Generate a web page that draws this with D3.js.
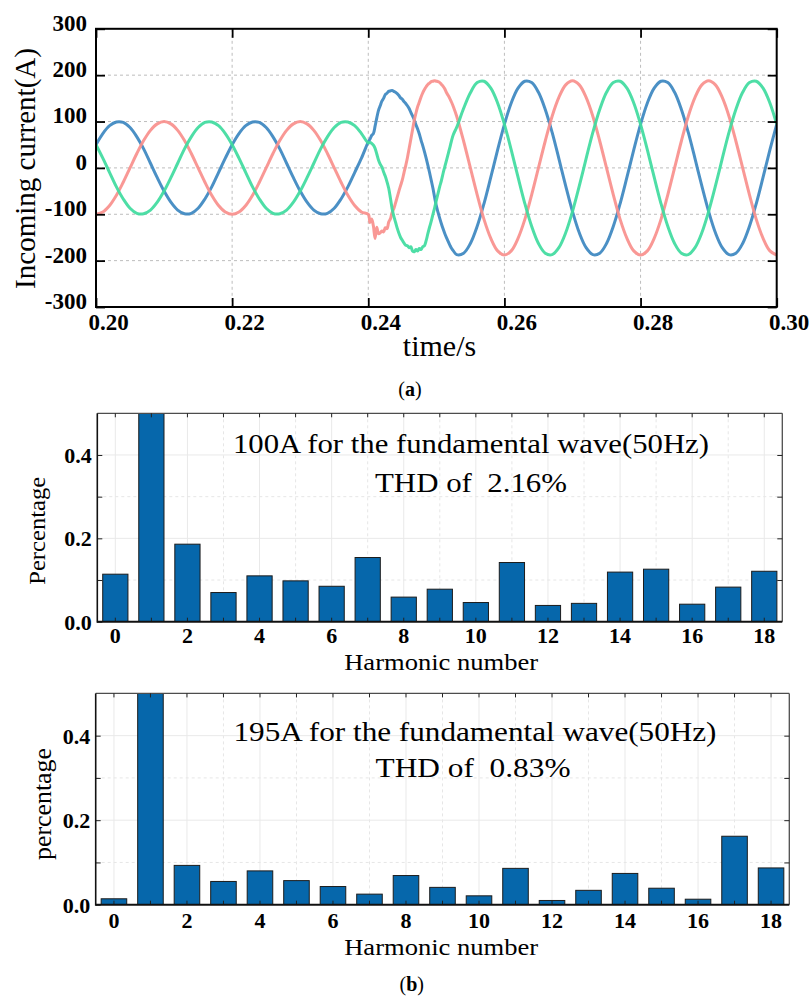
<!DOCTYPE html>
<html><head><meta charset="utf-8">
<script src="https://cdn.jsdelivr.net/npm/d3@7"></script>
<style>
body{margin:0;background:#fff;}
svg{display:block;}
svg text{font-family:"Liberation Serif","Times New Roman",Tinos,Times,serif;}
</style></head>
<body><svg id="c" width="810" height="998"></svg>
<script>
// ---------- Data: (a) incoming current waveforms ----------
const timeTicks = [0.20, 0.22, 0.24, 0.26, 0.28, 0.30];
const currentTicks = [-300, -200, -100, 0, 100, 200, 300];
// sample instants in milliseconds
const sampleMs = [
 200,201,202,203,204,205,206,207,208,209,210,211,212,213,214,215,216,217,218,219,
 220,221,222,223,224,225,226,227,228,229,230,231,232,233,234,235,236,237,238,239,240,
 240.25,240.5,240.75,241,241.25,241.5,241.75,242,242.25,242.5,242.75,243,243.25,243.5,243.75,
 244,244.25,244.5,244.75,245,245.25,245.5,245.75,246,246.25,246.5,246.75,247,247.25,247.5,247.75,
 248,248.25,248.5,248.75,249,249.25,249.5,249.75,250,250.25,250.5,250.75,251,251.25,251.5,251.75,
 252,252.25,252.5,
 253,254,255,256,257,258,259,260,261,262,263,264,265,266,267,268,269,270,271,272,273,274,275,276,277,
 278,279,280,281,282,283,284,285,286,287,288,289,290,291,292,293,294,295,296,297,298,299,300
];
const phaseA = [ // blue
 50,74,91,99,98,87,67,41,10,-21,-50,-74,-91,-99,-98,-87,-67,-41,-10,21,
 50,74,91,99,98,87,67,41,10,-21,-50,-74,-91,-99,-98,-87,-67,-41,-10,21,56,
 62,70,74,90,108,124,134,144,150,158,161,165,166,167,165,163,160,156,151,148,143,139,134,128,120,
 112,104,93,84,73,60,48,35,21,6,-10,-27,-44,-64,-82,-96,-109,-121,-132,-142,-151,-159,-167,-174,-179,
 -187,-184,-163,-126,-77,-20,39,
 94,140,172,187,184,163,126,77,20,-39,-94,-140,-172,-187,-184,-163,-126,-77,-20,39,
 94,140,172,187,184,163,126,77,20,-39,-94,-140,-172,-187,-184,-163,-126,-77,-20,39,94
];
const phaseB = [ // pink
 -100,-95,-81,-59,-31,0,31,59,81,95,100,95,81,59,31,0,-31,-59,-81,-95,
 -100,-95,-81,-59,-31,0,31,59,81,95,100,95,81,59,31,0,-31,-59,-81,-95,-100,
 -118,-110,-125,-152,-128,-142,-140,-136,-138,-129,-131,-117,-110,-96,-88,-76,-63,-50,-38,-26,-10,5,22,42,62,
 82,102,118,132,142,153,162,169,175,180,183,186,187,188,187,186,184,180,176,170,162,156,149,141,132,
 111,58,0,-58,-111,-152,-179,
 -188,-179,-152,-111,-58,0,58,111,152,179,188,179,152,111,58,0,-58,-111,-152,-179,
 -188,-179,-152,-111,-58,0,58,111,152,179,188,179,152,111,58,0,-58,-111,-152,-179,-188
];
const phaseC = [ // green
 50,21,-10,-41,-67,-87,-98,-99,-91,-74,-50,-21,10,41,67,87,98,99,91,74,
 50,21,-10,-41,-67,-87,-98,-99,-91,-74,-50,-21,10,41,67,87,98,99,91,74,54,
 55,53,49,42,30,17,8,2,-9,-18,-30,-44,-65,-88,-104,-117,-130,-141,-150,-156,-162,-167,-168,-172,-170,
 -179,-181,-176,-179,-174,-176,-170,-168,-157,-142,-128,-115,-100,-86,-70,-55,-40,-27,-11,3,17,31,45,60,72,
 88,128,162,184,187,172,140,
 94,39,-20,-77,-126,-163,-184,-187,-172,-140,-94,-39,20,77,126,163,184,187,172,140,
 94,39,-20,-77,-126,-163,-184,-187,-172,-140,-94,-39,20,77,126,163,184,187,172,140,94
];

// ---------- Data: (b) harmonic spectra ----------
const harmonics = [0,1,2,3,4,5,6,7,8,9,10,11,12,13,14,15,16,17,18];
const harmonicTicks = [0,2,4,6,8,10,12,14,16,18];
const pctTicks = [0, 0.2, 0.4];
const pct100A = [0.114,1.0,0.186,0.070,0.110,0.098,0.085,0.154,0.059,0.078,0.046,0.142,0.039,0.044,0.119,0.126,0.042,0.083,0.121];
const pct195A = [0.014,1.0,0.093,0.055,0.080,0.057,0.043,0.025,0.069,0.041,0.021,0.086,0.010,0.034,0.074,0.039,0.013,0.162,0.087];

// ---------- Drawing ----------
const svg = d3.select("#c");
function F(sel){ return sel.style("font-family", '"Liberation Serif","Times New Roman",Tinos,Times,serif'); }

// ===== (a) waveform chart =====
const A = {l:96, r:776.7, t:28.8, b:307};
const x1 = d3.scaleLinear().domain([0.20, 0.30]).range([A.l, A.r]);
const y1 = d3.scaleLinear().domain([-300, 300]).range([A.b, A.t]);

const gA = svg.append("g");
gA.append("g").selectAll("line").data(timeTicks.slice(1,-1)).join("line")
  .attr("x1", d=>x1(d)).attr("x2", d=>x1(d)).attr("y1", A.t).attr("y2", A.b)
  .attr("stroke", "#bdbdbd").attr("stroke-width", 1).attr("stroke-dasharray", "3,3");
gA.append("g").selectAll("line").data(currentTicks.slice(1,-1)).join("line")
  .attr("y1", d=>y1(d)).attr("y2", d=>y1(d)).attr("x1", A.l).attr("x2", A.r)
  .attr("stroke", "#bdbdbd").attr("stroke-width", 1).attr("stroke-dasharray", "3,3");

svg.append("defs").append("clipPath").attr("id","clipA").append("rect")
  .attr("x", A.l).attr("y", A.t).attr("width", A.r-A.l).attr("height", A.b-A.t);

const series = [
  {vals: phaseA, color: "#3c87c0"},
  {vals: phaseB, color: "#f88f8c"},
  {vals: phaseC, color: "#3fdb9e"}
];
const line = d3.line().x(d=>x1(d.t)).y(d=>y1(d.v)).curve(d3.curveCatmullRom.alpha(0.5));
gA.append("g").attr("clip-path","url(#clipA)").selectAll("path").data(series).join("path")
  .attr("d", s => line(sampleMs.map((ms,i)=>({t: ms/1000, v: s.vals[i]}))))
  .attr("fill","none").attr("stroke", s=>s.color).attr("stroke-width", 3)
  .attr("stroke-linejoin","round").attr("stroke-opacity", 0.92);

function styleAxis(g, col, w){
  g.select(".domain").remove();
  g.selectAll(".tick line").attr("stroke", col).attr("stroke-width", w);
}
const axB = gA.append("g").attr("transform",`translate(0,${A.b})`)
  .call(d3.axisBottom(x1).tickValues(timeTicks).tickSize(-9).tickFormat(d3.format(".2f")));
styleAxis(axB, "#000", 1.8);
F(axB.selectAll("text").attr("y", 23).attr("dy", 0).attr("dx", 12)
  .attr("font-weight","bold").attr("font-size", 23).attr("fill","#000"));
const axT = gA.append("g").attr("transform",`translate(0,${A.t})`)
  .call(d3.axisTop(x1).tickValues(timeTicks).tickSize(-9).tickFormat(""));
styleAxis(axT, "#000", 1.8);
const axL = gA.append("g").attr("transform",`translate(${A.l},0)`)
  .call(d3.axisLeft(y1).tickValues(currentTicks).tickSize(-9).tickFormat(d=>String(d)));
styleAxis(axL, "#000", 1.8);
F(axL.selectAll("text").attr("x", -9).attr("y", -6).attr("dy","0.32em")
  .attr("font-weight","bold").attr("font-size", 23).attr("fill","#000"));
const axR = gA.append("g").attr("transform",`translate(${A.r},0)`)
  .call(d3.axisRight(y1).tickValues(currentTicks).tickSize(-9).tickFormat(""));
styleAxis(axR, "#000", 1.8);
gA.append("rect").attr("x",A.l).attr("y",A.t).attr("width",A.r-A.l).attr("height",A.b-A.t)
  .attr("fill","none").attr("stroke","#000").attr("stroke-width",2);
F(gA.append("text").attr("transform","translate(35,168.5) rotate(-90)")
  .attr("text-anchor","middle").attr("font-size",29)
  .text("Incoming current(A)"));
F(gA.append("text").attr("x",439.5).attr("y",355.5).attr("text-anchor","middle")
  .attr("font-size",30).text("time/s"));
const capA = F(svg.append("text").attr("x",410).attr("y",396).attr("text-anchor","middle")
  .attr("font-size",20));
capA.append("tspan").text("(");
capA.append("tspan").attr("font-weight","bold").text("a");
capA.append("tspan").text(")");

// ===== bar charts =====
function barChart(cfg){
  const {l, r, t, b, vals, ylabel, ylabelPos, ylabelSize, ylabelLen, ann1, ann2, xlabBase, tickBase, id} = cfg;
  const g = svg.append("g");
  const x = d3.scaleBand().domain(harmonics).range([l, r]).paddingInner(0.3).paddingOuter(0.15);
  const y = d3.scaleLinear().domain([0, 0.5]).range([b, t]);
  const minorY = [0.1, 0.3];
  const majorY = [0.2, 0.4];
  const cx = d => x(d) + x.bandwidth()/2;
  g.append("g").selectAll("line").data(harmonics).join("line")
    .attr("x1", cx).attr("x2", cx).attr("y1", t).attr("y2", b)
    .attr("stroke", d => d%2===0 ? "#e9e9e9" : "#e6e6e6")
    .attr("stroke-width", 1)
    .attr("stroke-dasharray", d => d%2===0 ? null : "3,3");
  g.append("g").selectAll("line").data(majorY.concat(minorY)).join("line")
    .attr("y1", d=>y(d)).attr("y2", d=>y(d)).attr("x1", l).attr("x2", r)
    .attr("stroke", d => majorY.includes(d) ? "#e9e9e9" : "#e6e6e6")
    .attr("stroke-width", 1)
    .attr("stroke-dasharray", d => majorY.includes(d) ? null : "3,3");
  svg.select("defs").append("clipPath").attr("id", id).append("rect")
    .attr("x", l).attr("y", t).attr("width", r-l).attr("height", b-t);
  g.append("g").attr("clip-path", `url(#${id})`).selectAll("rect").data(harmonics).join("rect")
    .attr("x", d => x(d)).attr("width", x.bandwidth())
    .attr("y", (d,i) => y(vals[i])).attr("height", (d,i) => b - y(vals[i]))
    .attr("fill", "#0667ab").attr("stroke", "#1c1c1c").attr("stroke-width", 1);
  g.append("line").attr("x1",l).attr("x2",r).attr("y1",t).attr("y2",t).attr("stroke","#4d4d4d").attr("stroke-width",1.3);
  g.append("line").attr("x1",r).attr("x2",r).attr("y1",t).attr("y2",b).attr("stroke","#4d4d4d").attr("stroke-width",1.3);
  const allY = [0,0.1,0.2,0.3,0.4,0.5];
  const ax = g.append("g").attr("transform",`translate(0,${b})`)
    .call(d3.axisBottom(x).tickValues(harmonics).tickSize(-4)
      .tickFormat(d => harmonicTicks.includes(d) ? String(d) : ""));
  ax.select(".domain").remove();
  ax.selectAll(".tick line").attr("stroke","#222").attr("stroke-width",1);
  F(ax.selectAll("text").attr("y", tickBase - b).attr("dy", 0)
    .attr("font-weight","bold").attr("font-size",22).attr("fill","#000"));
  const axt = g.append("g").attr("transform",`translate(0,${t})`)
    .call(d3.axisTop(x).tickValues(harmonics).tickSize(-4).tickFormat(""));
  axt.select(".domain").remove();
  axt.selectAll(".tick line").attr("stroke","#222").attr("stroke-width",1);
  const ayl = g.append("g").attr("transform",`translate(${l},0)`)
    .call(d3.axisLeft(y).tickValues(allY.slice(0,5)).tickSize(-5)
      .tickFormat(d => pctTicks.includes(d) ? d3.format(".1f")(d) : ""));
  ayl.select(".domain").remove();
  ayl.selectAll(".tick line").attr("stroke","#222").attr("stroke-width",1);
  F(ayl.selectAll("text").attr("x", -5.5).attr("dy","0.34em")
    .attr("font-weight","bold").attr("font-size",22).attr("fill","#000"));
  const ayr = g.append("g").attr("transform",`translate(${r},0)`)
    .call(d3.axisRight(y).tickValues(allY.slice(1,5)).tickSize(-5).tickFormat(""));
  ayr.select(".domain").remove();
  ayr.selectAll(".tick line").attr("stroke","#222").attr("stroke-width",1);
  g.append("line").attr("x1",l).attr("x2",l).attr("y1",t).attr("y2",b+1).attr("stroke","#111").attr("stroke-width",1.6);
  g.append("line").attr("x1",l).attr("x2",r).attr("y1",b).attr("y2",b).attr("stroke","#111").attr("stroke-width",2);
  F(g.append("text").attr("transform",`translate(${ylabelPos[0]},${ylabelPos[1]}) rotate(-90)`)
    .attr("text-anchor","middle").attr("font-size",ylabelSize)
    .attr("textLength", ylabelLen).attr("lengthAdjust","spacingAndGlyphs").text(ylabel));
  F(g.append("text").attr("x",441.2).attr("y",xlabBase).attr("text-anchor","middle")
    .attr("font-size",24)
    .attr("textLength",194).attr("lengthAdjust","spacingAndGlyphs").text("Harmonic number"));
  [ann1, ann2].forEach(a => {
    F(g.append("text").attr("x",a.x).attr("y",a.y).attr("text-anchor","middle")
      .attr("font-size",28).style("white-space","pre")
      .attr("textLength",a.len).attr("lengthAdjust","spacingAndGlyphs").text(a.text));
  });
}

barChart({
  id:"clipB1", l:97.3, r:782.3, t:413.3, b:621.7, vals:pct100A,
  ylabel:"Percentage", ylabelPos:[45,530.8], ylabelSize:23, ylabelLen:108,
  ann1:{text:"100A for the fundamental wave(50Hz)", x:471, y:453.3, len:476},
  ann2:{text:"THD of  2.16%", x:471, y:491.7, len:192},
  xlabBase:670.3, tickBase:643.3
});
barChart({
  id:"clipB2", l:95.7, r:789.3, t:693.4, b:904.7, vals:pct195A,
  ylabel:"percentage", ylabelPos:[51,804], ylabelSize:26, ylabelLen:112,
  ann1:{text:"195A for the fundamental wave(50Hz)", x:475, y:740.5, len:483},
  ann2:{text:"THD of  0.83%", x:473, y:777.3, len:195},
  xlabBase:954.5, tickBase:927.7
});
const capB = F(svg.append("text").attr("x",411.7).attr("y",991).attr("text-anchor","middle")
  .attr("font-size",20));
capB.append("tspan").text("(");
capB.append("tspan").attr("font-weight","bold").text("b");
capB.append("tspan").text(")");
</script>
</body></html>
